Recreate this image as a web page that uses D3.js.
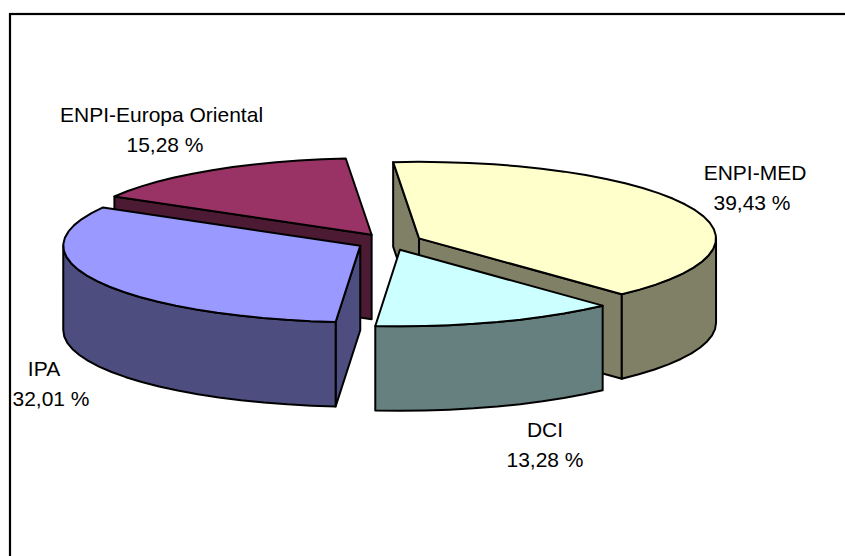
<!DOCTYPE html>
<html lang="en">

<head>
    <meta charset="UTF-8">
    <title>ENPI pie</title>
    <script src="https://cdnjs.cloudflare.com/ajax/libs/d3/7.8.5/d3.min.js"></script>
    <style>
        html, body { margin: 0; padding: 0; background: #fff; overflow: hidden; }
        svg { display: block; }
        text { font-family: "Liberation Sans", Arial, sans-serif; font-size: 21px; fill: #000; }
    </style>
</head>

<body>
    <svg width="845" height="556"></svg>
    <script>
        // clockwise from the start angle, as in the chart
        var categories = ["ENPI-MED", "DCI", "IPA", "ENPI-Europa Oriental"];
        var shares = [39.43, 13.28, 32.01, 15.28];
        var shareLabels = ["39,43 %", "13,28 %", "32,01 %", "15,28 %"];
        var topColors = ["#ffffcc", "#ccffff", "#9999ff", "#993366"];
        var sideColors = ["#808066", "#668080", "#4d4d80", "#4d1a33"];

        // layout
        var cx = 389.2, cy = 241.8, rx = 297, ry = 76.5, depth = 84.5, explode = 0.11;
        var labelPos = [[755, 180, 210], [545, 437, 467], [51, 376, 406], [161.5, 122, 152]];
        var labelDx = [[0, -3], [0, 0], [-7, 0], [0, 3.5]];
        var drawOrder = [3, 2, 0, 1];

        var svg = d3.select("svg");

        // chart frame runs off the page on the right and at the bottom
        svg.append("rect")
            .attr("x", 10).attr("y", 14)
            .attr("width", 900).attr("height", 600)
            .attr("fill", "#fff").attr("stroke", "#000").attr("stroke-width", 2.2);

        var pie = d3.pie().sort(null)
            .startAngle(-5 * Math.PI / 180)
            .endAngle(355 * Math.PI / 180);
        var arcs = pie(shares);

        var x = d3.scaleLinear().domain([-1, 1]).range([-rx, rx]);
        var y = d3.scaleLinear().domain([-1, 1]).range([-ry, ry]);
        var line = d3.line();

        function rimPoint(o, a, drop) {
            return [o[0] + x(Math.sin(a)), o[1] + y(-Math.cos(a)) + drop];
        }

        function rimPoints(o, a0, a1, drop) {
            var n = Math.max(2, Math.ceil((a1 - a0) / (5 * Math.PI / 180)));
            return d3.range(n + 1).map(function (i) {
                return rimPoint(o, a0 + (a1 - a0) * i / n, drop);
            });
        }

        function shape(cls, pts, fill) {
            svg.append("path")
                .attr("class", cls)
                .attr("d", line(pts) + "Z")
                .attr("fill", fill)
                .attr("stroke", "#000")
                .attr("stroke-width", 2)
                .attr("stroke-linejoin", "round");
        }

        function radialWall(o, a, fill) {
            var rim = rimPoint(o, a, 0);
            shape("wall", [o, rim, [rim[0], rim[1] + depth], [o[0], o[1] + depth]], fill);
        }

        drawOrder.forEach(function (i) {
            var d = arcs[i];
            var mid = (d.startAngle + d.endAngle) / 2;
            var o = [cx + x(explode * Math.sin(mid)), cy + y(-explode * Math.cos(mid))];
            var side = sideColors[i];

            // radial walls only show if they face the viewer
            if (-Math.cos(d.startAngle - Math.PI / 2) > 0) radialWall(o, d.startAngle, side);
            if (-Math.cos(d.endAngle + Math.PI / 2) > 0) radialWall(o, d.endAngle, side);

            // outer wall is the front half of the rim
            var a0 = Math.max(d.startAngle, Math.PI / 2);
            var a1 = Math.min(d.endAngle, 3 * Math.PI / 2);
            if (a1 > a0) {
                var upper = rimPoints(o, a0, a1, 0);
                var lower = rimPoints(o, a0, a1, depth).reverse();
                shape("wall", upper.concat(lower), side);
            }

            shape("top", [o].concat(rimPoints(o, d.startAngle, d.endAngle, 0)), topColors[i]);
        });

        categories.forEach(function (name, i) {
            var p = labelPos[i];
            svg.append("text").attr("text-anchor", "middle")
                .attr("x", p[0] + labelDx[i][0]).attr("y", p[1]).text(name);
            svg.append("text").attr("text-anchor", "middle")
                .attr("x", p[0] + labelDx[i][1]).attr("y", p[2]).text(shareLabels[i]);
        });
    </script>
</body>

</html>
